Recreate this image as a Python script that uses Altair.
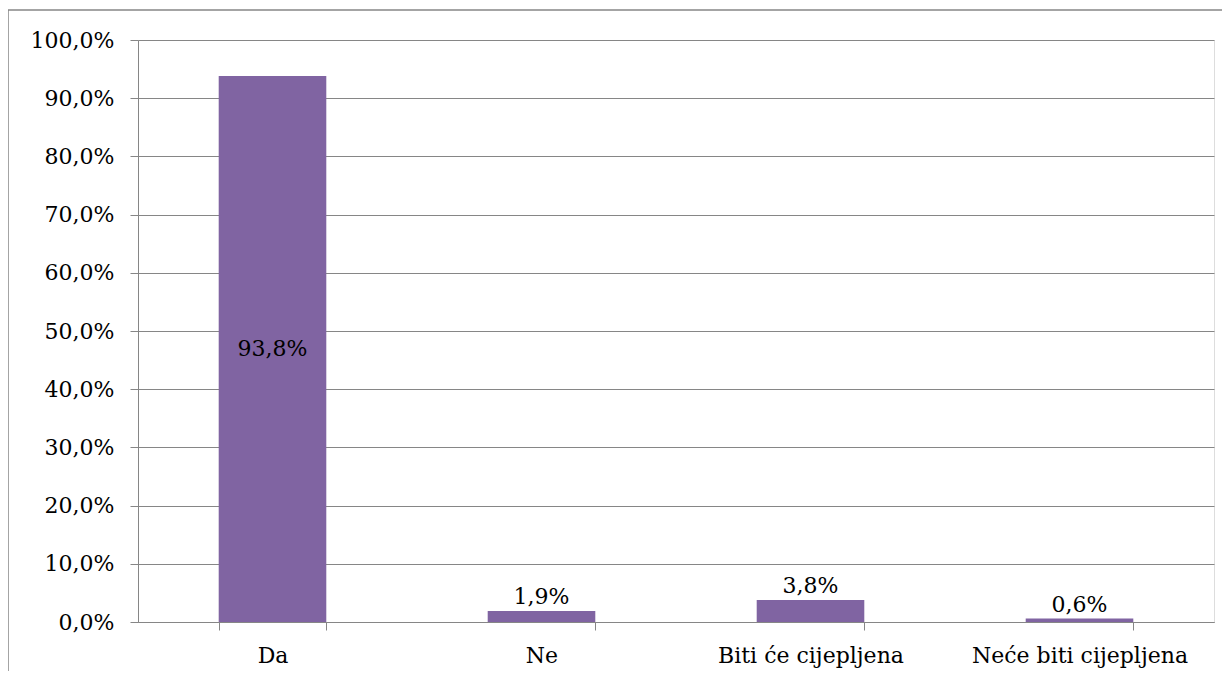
import altair as alt
import pandas as pd

categories = ["Da", "Ne", "Biti će cijepljena", "Neće biti cijepljena"]
values = [0.938, 0.019, 0.038, 0.006]

df = pd.DataFrame({"cat": categories, "value": values})

FONT = "DejaVu Serif"
FS = 22
GRID = "#868686"
BAR = "#8064A2"

base = alt.Chart(df)

xenc = alt.X("cat:N", sort=categories, title=None,
             scale=alt.Scale(paddingInner=0.6, paddingOuter=0.3),
             axis=alt.Axis(labelAngle=0, labelFont=FONT, labelFontSize=FS, labelColor="#000",
                           domainColor=GRID, tickColor=GRID, tickSize=8, tickBand="extent",
                           labelPadding=15, labelLimit=0, grid=False))
yenc = alt.Y("value:Q", title=None,
             scale=alt.Scale(domain=[0, 1]),
             axis=alt.Axis(values=[i / 10 for i in range(11)],
                           labelExpr="replace(format(datum.value, '.1%'), '.', ',')",
                           labelFont=FONT, labelFontSize=FS, labelColor="#000",
                           domainColor=GRID, tickColor=GRID, gridColor=GRID, tickSize=8,
                           labelPadding=16, grid=True))

bars = base.mark_bar(color=BAR).encode(x=xenc, y=yenc)

label_expr = "replace(format(datum.value, '.1%'), '.', ',')"

inside = base.transform_filter("datum.value > 0.5").transform_calculate(
    lbl=label_expr, mid="datum.value / 2"
).mark_text(font=FONT, fontSize=FS, color="#000", baseline="middle").encode(
    x=alt.X("cat:N", sort=categories), y=alt.Y("mid:Q"), text="lbl:N")

above = base.transform_filter("datum.value <= 0.5").transform_calculate(
    lbl=label_expr
).mark_text(font=FONT, fontSize=FS, color="#000", baseline="bottom", dy=-2).encode(
    x=alt.X("cat:N", sort=categories), y=alt.Y("value:Q"), text="lbl:N")

border = alt.Chart(pd.DataFrame({"a": [0]})).mark_rect(
    fill=None, stroke=GRID, strokeWidth=1.5
).encode(x=alt.value(-130), x2=alt.value(1091), y=alt.value(-30), y2=alt.value(720))

chart = alt.layer(border, bars, inside, above).properties(
    width=1076, height=582,
    autosize=alt.AutoSizeParams(type="none"),
    padding={"left": 130, "top": 32, "right": 8, "bottom": 49},
).configure_view(stroke=None).configure(background="white")

chart.save("out.html", embed_options={"renderer": "svg", "actions": False})
